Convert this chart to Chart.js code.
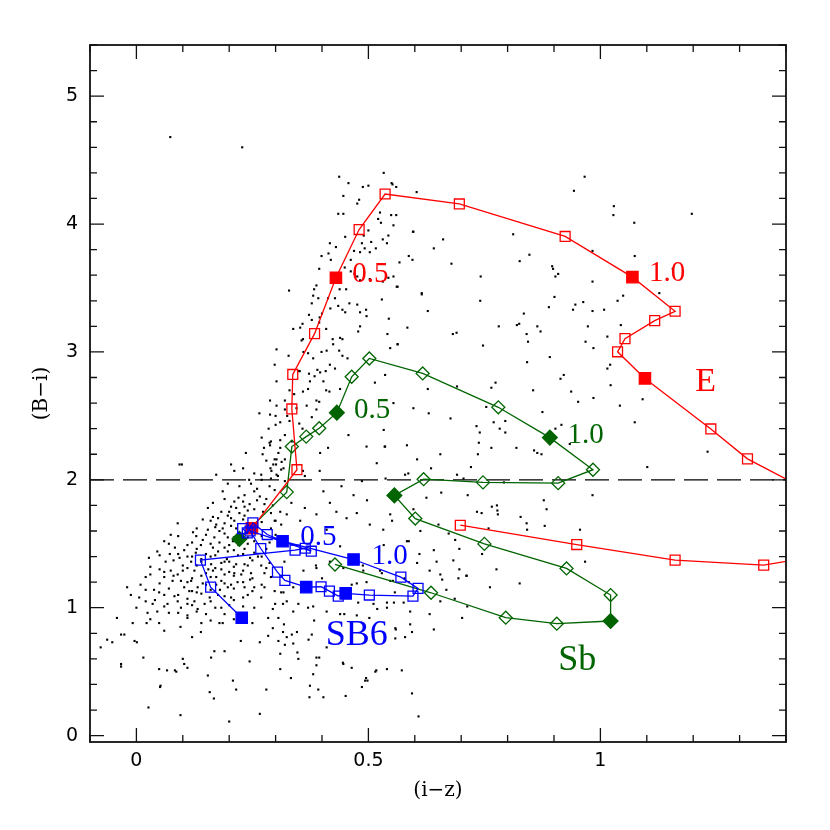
<!DOCTYPE html>
<html>
<head>
<meta charset="utf-8">
<script src="https://cdn.jsdelivr.net/npm/chart.js@4/dist/chart.umd.min.js"></script>
<style>
  body { margin: 0; background: #fff; }
</style>
</head>
<body>
<canvas id="myChart" width="830" height="830"></canvas>
<script>
// E template track (i-z, B-i), filled markers every 0.5 in redshift
var eX = [0.249, 0.346, 0.335, 0.337, 0.384, 0.430, 0.480, 0.536, 0.696, 0.924, 1.069, 1.161, 1.117, 1.053, 1.037, 1.096, 1.238, 1.317, 1.656, 1.352, 1.161, 0.949, 0.698];
var eY = [1.621, 2.079, 2.554, 2.824, 3.143, 3.580, 3.957, 4.235, 4.157, 3.903, 3.585, 3.318, 3.245, 3.104, 3.001, 2.793, 2.398, 2.164, 1.520, 1.333, 1.372, 1.494, 1.645];
var eFilled = [0, 5, 10, 15];

// Sb template track
var sbX = [0.222, 0.324, 0.335, 0.366, 0.394, 0.432, 0.464, 0.502, 0.617, 0.780, 0.891, 0.984, 0.909, 0.747, 0.619, 0.556, 0.601, 0.750, 0.927, 1.022, 1.022, 0.906, 0.796, 0.635, 0.428];
var sbY = [1.538, 1.904, 2.260, 2.338, 2.403, 2.525, 2.806, 2.949, 2.832, 2.567, 2.330, 2.079, 1.974, 1.980, 2.005, 1.878, 1.697, 1.499, 1.307, 1.099, 0.896, 0.875, 0.922, 1.117, 1.338];
var sbFilled = [0, 5, 10, 15, 20];

// SB6 template track
var sb6X = [0.229, 0.239, 0.251, 0.282, 0.315, 0.468, 0.570, 0.607, 0.596, 0.502, 0.451, 0.435, 0.416, 0.398, 0.366, 0.320, 0.304, 0.268, 0.245, 0.377, 0.364, 0.342, 0.138, 0.160, 0.227];
var sb6Y = [1.619, 1.585, 1.663, 1.572, 1.520, 1.377, 1.239, 1.151, 1.091, 1.099, 1.112, 1.091, 1.130, 1.164, 1.161, 1.214, 1.278, 1.463, 1.600, 1.442, 1.465, 1.450, 1.372, 1.161, 0.922];
var sb6Filled = [4, 5, 10, 14, 24];

// observed galaxies
var dotX = [0.073,0.228,0.437,0.457,0.488,0.500,0.533,0.550,0.560,0.446,0.480,0.476,0.604,0.525,0.435,0.446,0.549,0.560,0.521,0.527,0.554,0.500,0.597,0.543,0.506,0.531,0.540,0.486,0.417,0.430,0.469,0.482,0.492,0.503,0.516,0.414,0.399,0.419,0.462,0.567,0.595,0.449,0.394,0.462,0.476,0.482,0.503,0.531,0.543,0.561,0.388,0.383,0.329,0.438,0.452,0.615,0.381,0.392,0.378,0.413,0.428,0.435,0.459,0.476,0.418,0.444,0.482,0.495,0.496,0.395,0.372,0.378,0.394,0.409,0.358,0.353,0.338,0.482,0.478,0.541,0.359,0.356,0.423,0.439,0.444,0.424,0.563,0.302,0.437,0.370,0.399,0.444,0.381,0.455,0.298,0.417,0.428,0.396,0.408,0.372,0.384,0.374,0.403,0.514,0.536,0.302,0.359,0.409,0.416,0.439,0.388,0.394,0.288,0.302,0.367,0.388,0.597,0.378,0.288,0.300,0.351,0.358,0.457,0.583,0.413,0.496,0.536,0.288,0.306,0.396,0.302,0.313,0.295,0.317,0.291,0.302,0.359,0.363,0.518,0.586,0.395,
0.679,0.896,0.898,0.909,0.903,0.554,0.742,0.563,0.615,0.901,0.529,0.741,0.946,0.889,0.941,0.628,0.835,0.544,0.820,0.825,0.781,0.864,0.584,0.871,0.682,0.690,0.841,0.844,0.563,0.547,0.747,0.891,0.842,0.921,0.914,0.774,0.765,0.691,0.628,0.855,0.937,0.952,0.554,0.630,0.754,0.875,0.677,0.916,0.733,0.770,0.795,0.783,0.795,0.740,0.533,0.903,0.738,0.535,0.765,0.819,0.857,0.864,0.873,0.655,0.736,0.605,0.635,0.721,0.934,
0.966,0.943,0.552,1.029,1.028,1.197,1.073,0.812,0.661,0.641,0.596,0.587,0.847,0.826,0.983,1.074,1.156,0.983,1.049,1.037,1.127,0.963,1.008,0.983,0.973,1.044,1.015,0.968,0.985,1.021,1.015,1.022,0.985,1.042,1.091,1.074,1.101,1.231,0.983,0.878,
0.537,0.579,0.691,0.705,0.792,0.625,0.657,0.714,0.884,0.766,0.777,0.778,0.779,0.734,0.744,0.597,0.547,0.551,0.651,0.828,0.841,0.842,0.880,0.956,0.759,0.673,0.687,0.587,0.533,0.696,0.641,0.610,0.647,0.683,0.745,0.605,0.967,0.632,0.696,0.711,0.776,0.655,0.826,0.762,0.668,0.587,0.655,0.686,0.713,0.632,0.702,0.641,0.540,0.572,0.594,0.559,0.590,0.594,0.579,0.557,0.555,
0.360,0.387,0.488,0.525,0.475,0.496,0.553,0.578,0.659,0.694,0.712,0.338,0.317,0.464,0.349,0.381,0.410,0.439,0.448,0.475,0.502,0.519,0.540,0.576,0.383,0.318,0.316,0.335,0.378,0.371,0.558,0.558,0.320,0.338,0.347,0.349,0.394,0.445,0.464,0.517,0.388,0.381,0.333,0.495,0.498,0.486,0.392,0.451,0.373,0.608,
0.287,0.310,0.272,0.236,0.298,0.301,0.312,0.093,0.098,0.204,0.230,0.289,0.172,0.211,0.254,0.269,0.305,0.247,0.197,0.186,0.287,0.298,0.233,0.254,0.266,0.165,0.230,0.211,0.244,0.276,0.294,0.215,0.254,0.273,0.183,0.165,0.197,0.222,0.204,0.233,0.143,0.089,0.190,0.172,0.211,0.074,0.122,0.129,0.154,0.179,0.190,0.197,0.168,0.143,0.110,0.139,0.179,0.200,0.254,0.287,0.060,0.083,0.103,0.176,0.197,0.233,0.254,0.027,0.063,0.093,0.110,0.118,0.161,0.183,0.200,0.215,0.233,0.269,0.287,0.050,0.074,0.089,0.110,0.125,0.165,0.183,0.190,0.211,0.226,0.247,0.276,0.009,0.038,0.049,0.060,0.078,0.096,0.103,0.082,0.114,0.132,0.143,0.183,0.197,0.204,0.233,0.254,-0.020,-0.012,0.006,0.035,0.045,0.067,0.089,0.096,0.110,0.125,0.132,0.147,0.158,0.176,0.204,0.183,0.179,0.186,0.254,0.269,0.230,0.000,0.024,-0.008,0.022,0.049,-0.042,-0.033,-0.026,-0.004,0.001,-0.063,-0.077,-0.052,-0.033,-0.033,0.015,0.049,0.066,0.083,0.100,0.103,0.110,0.051,0.026,0.095,0.120,0.139,0.161,0.168,0.190,0.154,0.208,0.215,0.158,0.167,0.200,0.266,0.280,0.244,0.225,0.266,0.284,0.306,0.294,0.284,0.294,0.233,0.298,0.276,0.316,0.312,0.319,0.312,0.298,0.204,0.154,0.233,0.204,
0.052,0.086,0.310,0.374,0.403,0.493,0.515,0.310,0.388,0.446,0.410,0.324,0.346,
0.403,0.442,0.417,0.468,0.486,0.497,0.388,0.431,0.453,0.475,0.353,0.363,0.334,0.324,0.410,0.503,0.532,0.583,0.612,0.439,0.417,0.446,0.489,0.388,0.400,0.529,0.547,0.478,0.511,0.540,0.590,0.370,0.324,0.338,0.306,0.299,
0.176,0.186,0.215,0.222,0.240,0.208,0.165,0.150,0.128,0.140,0.155,0.172,0.140,0.118,0.100,0.072,0.045,0.130,0.160,0.172,0.218,0.245,0.262,0.245,0.219,0.195,0.160,0.060,0.030,0.020,0.070,0.110,0.150,0.200,0.220,0.250,0.140,0.095,0.060,0.260,0.243,0.222,0.275,0.320,0.325,0.340,0.352,0.328,0.320,0.335,0.285,0.270,0.300,0.265];
var dotY = [4.68,4.60,4.37,4.32,4.29,4.30,4.40,4.32,4.29,4.22,4.19,4.16,4.25,4.09,4.08,4.08,4.07,4.07,4.04,4.01,3.99,3.95,3.94,3.91,3.86,3.88,3.85,3.85,3.85,3.82,3.79,3.78,3.81,3.78,3.81,3.77,3.75,3.72,3.72,3.70,3.72,3.66,3.65,3.63,3.59,3.56,3.57,3.55,3.58,3.51,3.52,3.49,3.48,3.49,3.49,3.46,3.44,3.42,3.38,3.42,3.42,3.36,3.38,3.37,3.34,3.33,3.31,3.33,3.28,3.27,3.29,3.25,3.23,3.18,3.22,3.19,3.18,3.20,3.16,3.14,3.10,3.09,3.10,3.11,3.10,3.06,3.06,3.02,3.01,2.99,3.00,2.97,2.95,2.95,2.90,2.90,2.87,2.84,2.85,2.83,2.81,2.77,2.77,2.76,2.82,2.77,2.69,2.70,2.69,2.71,2.62,2.61,2.62,2.58,2.58,2.55,2.56,2.49,2.51,2.43,2.44,2.40,2.35,2.27,2.25,2.26,2.26,2.27,2.21,2.21,2.16,2.14,2.12,2.09,2.07,2.04,2.07,2.03,2.13,2.05,2.07,
3.69,3.67,3.65,3.61,3.59,3.59,3.59,3.51,3.45,3.43,3.41,3.40,3.37,3.35,3.33,3.32,3.30,3.26,3.21,3.22,3.20,3.20,3.19,3.16,3.14,3.15,3.14,3.08,3.06,3.03,3.05,2.96,2.92,2.82,2.79,2.76,2.72,2.73,2.71,2.70,2.69,2.61,2.60,2.52,2.57,2.53,2.48,2.43,2.42,2.45,2.46,2.40,2.37,2.37,2.39,2.40,2.29,2.26,2.25,2.25,2.23,2.21,2.20,2.20,2.20,2.16,2.09,2.10,2.28,
4.37,4.26,4.31,4.14,4.07,4.08,4.01,3.92,3.88,3.81,3.94,3.75,3.76,3.71,3.79,3.75,3.65,3.55,3.44,3.40,3.46,3.39,3.33,3.32,3.20,3.21,3.12,3.08,3.03,2.90,2.87,2.74,2.64,2.58,2.63,2.45,2.10,2.22,1.88,1.84,
2.01,2.04,2.04,2.01,1.98,1.86,1.90,1.88,1.77,1.79,1.80,1.76,1.73,1.75,1.74,1.77,1.73,1.68,1.65,1.71,1.66,1.61,1.64,1.61,1.62,1.58,1.53,1.52,1.49,1.46,1.45,1.42,1.36,1.37,1.42,1.35,1.36,1.29,1.30,1.25,1.30,1.26,1.19,1.16,1.14,1.20,1.05,1.07,1.01,0.95,0.92,0.83,0.52,0.51,0.33,0.83,0.87,0.81,0.77,1.12,1.04,
1.29,1.33,1.33,1.29,1.19,1.20,1.21,1.23,1.22,1.23,1.25,1.16,1.12,1.18,1.03,1.01,0.97,0.95,0.95,0.94,0.92,0.99,1.00,1.04,0.90,0.87,0.81,0.79,0.79,0.75,0.84,0.76,0.71,0.72,0.65,0.60,0.61,0.57,0.53,0.51,0.55,0.48,0.45,0.45,0.43,0.38,0.36,0.31,0.30,0.15,
2.29,2.25,2.20,2.21,2.16,2.12,2.08,2.12,2.12,2.12,2.09,2.09,2.04,2.07,2.05,2.04,2.03,1.97,1.97,1.91,1.95,1.92,1.88,1.91,1.87,1.82,1.83,1.83,1.81,1.81,1.80,1.78,1.77,1.75,1.75,1.71,1.72,1.74,1.70,1.72,1.69,1.66,1.66,1.65,1.68,1.57,1.59,1.56,1.61,1.60,1.58,1.55,1.55,1.53,1.49,1.49,1.51,1.49,1.52,1.51,1.52,1.47,1.45,1.44,1.44,1.46,1.43,1.39,1.36,1.39,1.40,1.36,1.34,1.35,1.36,1.34,1.34,1.33,1.35,1.30,1.29,1.26,1.31,1.29,1.29,1.30,1.26,1.27,1.26,1.27,1.27,1.18,1.14,1.12,1.10,1.21,1.21,1.16,1.09,1.13,1.16,1.19,1.21,1.16,1.18,1.16,1.16,1.16,1.10,1.08,1.03,0.97,1.03,1.05,1.00,1.03,1.05,0.99,1.03,1.08,1.10,1.08,1.00,0.88,0.88,1.00,1.08,1.08,1.00,0.96,0.88,0.88,0.88,0.92,0.79,0.79,0.74,0.73,0.75,0.69,0.73,0.56,0.54,0.61,0.52,0.51,0.51,0.60,0.56,0.53,0.38,0.22,0.16,0.77,0.81,0.61,0.66,0.66,0.47,0.43,0.36,0.34,0.29,0.11,0.17,0.36,0.58,0.74,0.73,0.78,0.74,0.84,0.92,0.99,0.95,1.13,1.16,1.03,1.12,1.36,1.65,1.68,1.64,1.78,1.79,1.79,
0.39,0.50,0.52,0.39,0.30,0.43,0.50,0.64,0.61,0.56,0.69,0.77,0.81,
1.91,1.95,1.82,1.88,1.99,1.84,1.73,1.75,1.70,1.74,1.68,1.78,1.82,1.73,1.61,1.65,1.61,1.52,1.60,1.48,1.36,1.31,1.29,1.31,1.23,1.27,1.21,1.04,1.03,1.04,0.97,1.00,1.05,0.97,0.92,1.03,
1.70,1.62,1.62,1.58,1.55,1.52,1.47,1.42,1.43,1.36,1.30,1.24,1.25,1.21,1.33,1.42,1.44,1.12,1.14,1.18,1.20,1.22,1.40,1.39,1.41,1.38,1.40,1.24,1.26,1.05,0.96,0.94,0.95,1.02,0.94,0.88,0.88,0.85,0.82,1.93,2.00,1.95,2.25,2.35,2.50,2.67,2.85,2.97,2.62,2.30,2.40,2.33,2.50,2.52];

// extra galaxies in the crowded core and the red column
var coreX = [0.19,0.22,0.26,0.28, 0.20,0.24,0.29,0.31, 0.16,0.23,0.27,0.30, 0.13,0.17,0.26,0.29, 0.09,0.15,0.21,0.27,0.30, 0.07,0.12,0.16,0.22,0.24, 0.13,0.19,0.21,0.28, 0.05,0.09,0.12,0.17,0.23,0.27, 0.08,0.14,0.19,0.25, 0.03,0.13,0.17,0.21,0.24,0.28, 0.06,0.10,0.15,0.20,0.23, 0.02,0.08,0.12,0.16,0.21,0.25,0.29, 0.05,0.11,0.15,0.19,0.23,0.27, 0.02,0.07,0.12,0.18,0.21,0.25, 0.09,0.14,0.19,0.24, 0.04,0.11,0.16,0.21, 0.06,0.12,0.17,0.23, 0.09,0.13,0.19, 0.03,0.11,0.16,0.21,
0.27,0.29,0.32, 0.28,0.32, 0.29,0.31, 0.31,0.33, 0.32,0.345, 0.33,0.37, 0.35,0.39, 0.36,0.41, 0.40,0.45, 0.42,0.47, 0.45,0.49];
var coreY = [1.85,1.86,1.84,1.85, 1.75,1.76,1.74,1.75, 1.68,1.69,1.67,1.68, 1.62,1.63,1.61,1.62, 1.56,1.57,1.55,1.56,1.57, 1.50,1.51,1.50,1.49,1.50, 1.46,1.47,1.45,1.46, 1.41,1.42,1.40,1.41,1.42,1.40, 1.37,1.38,1.36,1.37, 1.32,1.33,1.31,1.32,1.33,1.31, 1.28,1.29,1.27,1.28,1.29, 1.24,1.25,1.23,1.24,1.25,1.23,1.24, 1.19,1.20,1.18,1.19,1.20,1.18, 1.14,1.15,1.13,1.14,1.15,1.13, 1.10,1.11,1.09,1.10, 1.06,1.07,1.05,1.06, 1.01,1.02,1.00,1.01, 0.96,0.97,0.95, 0.91,0.92,0.90,0.91,
2.00,2.01,1.99, 2.15,2.16, 2.30,2.31, 2.45,2.46, 2.55,2.56, 2.70,2.71, 2.85,2.86, 3.00,3.01, 3.30,3.31, 3.60,3.61, 3.90,3.91];

// axis limits and tick labels
var xRange = [-0.1, 1.4];
var yRange = [-0.05, 5.4];
var xTicks = [0, 0.5, 1];
var yTicks = [0, 1, 2, 3, 4, 5];
var cutLine = 2; // dashed colour cut in (B-i)

var red = '#ff0000';
var green = '#006400';
var blue = '#0000ff';

var textLabels = [
	{ text: '0.5', x: 0.504, y: 3.603, color: red, size: 29 },
	{ text: '1.0', x: 1.144, y: 3.611, color: red, size: 29 },
	{ text: 'E', x: 1.227, y: 2.767, color: red, size: 34 },
	{ text: '0.5', x: 0.508, y: 2.546, color: green, size: 29 },
	{ text: '1.0', x: 0.968, y: 2.346, color: green, size: 29 },
	{ text: 'Sb', x: 0.950, y: 0.585, color: green, size: 36 },
	{ text: '0.5', x: 0.392, y: 1.546, color: blue, size: 29 },
	{ text: '1.0', x: 0.546, y: 1.403, color: blue, size: 29 },
	{ text: 'SB6', x: 0.475, y: 0.779, color: blue, size: 36 }
];

function toPoints(xs, ys) {
	return xs.map(function(x, i) { return { x: x, y: ys[i] }; });
}

function track(label, xs, ys, filled, color, style, rOpen, rFill, order) {
	return {
		label: label,
		data: toPoints(xs, ys),
		showLine: true,
		borderColor: color,
		borderWidth: 1.3,
		tension: 0,
		pointStyle: style,
		pointRadius: function(ctx) { return filled.includes(ctx.dataIndex) ? rFill : rOpen; },
		pointBackgroundColor: function(ctx) { return filled.includes(ctx.dataIndex) ? color : 'rgba(0,0,0,0)'; },
		pointBorderColor: color,
		pointBorderWidth: 1.3,
		order: order
	};
}

// frame with inward ticks on all four sides
var frame = {
	id: 'frame',
	afterDatasetsDraw: function(chart) {
		var ctx = chart.ctx;
		var a = chart.chartArea;
		var xs = chart.scales.x, ys = chart.scales.y;
		ctx.save();
		ctx.strokeStyle = '#111';
		ctx.lineWidth = 1.3;
		ctx.beginPath();
		for (var i = -1; i <= 14; i++) {
			var v = i / 10;
			var px = xs.getPixelForValue(v);
			var len = (i % 5 === 0) ? 14 : 7;
			ctx.moveTo(px, a.bottom); ctx.lineTo(px, a.bottom - len);
			ctx.moveTo(px, a.top); ctx.lineTo(px, a.top + len);
		}
		for (var j = 0; j <= 27; j++) {
			var w = j / 5;
			var py = ys.getPixelForValue(w);
			var l2 = (j % 5 === 0) ? 14 : 7;
			ctx.moveTo(a.left, py); ctx.lineTo(a.left + l2, py);
			ctx.moveTo(a.right, py); ctx.lineTo(a.right - l2, py);
		}
		ctx.stroke();
		ctx.lineWidth = 1.8;
		ctx.strokeRect(a.left, a.top, a.right - a.left, a.bottom - a.top);

		// curve labels
		ctx.textAlign = 'center';
		ctx.textBaseline = 'middle';
		textLabels.forEach(function(t) {
			ctx.fillStyle = t.color;
			ctx.font = t.size + 'px "Liberation Serif"';
			ctx.fillText(t.text, xs.getPixelForValue(t.x), ys.getPixelForValue(t.y));
		});
		ctx.restore();
	}
};

var chart = new Chart(document.getElementById('myChart').getContext('2d'), {
	type: 'scatter',
	data: {
		datasets: [
			track('SB6', sb6X, sb6Y, sb6Filled, blue, 'rect', 7, 8, 1),
			track('E', eX, eY, eFilled, red, 'rect', 7, 8, 2),
			track('Sb', sbX, sbY, sbFilled, green, 'rectRot', 6.5, 7.4, 3),
			{
				label: 'cut',
				data: [{ x: xRange[0], y: cutLine }, { x: xRange[1], y: cutLine }],
				showLine: true,
				borderColor: '#000',
				borderWidth: 1.3,
				borderDash: [24, 9],
				pointRadius: 0,
				order: 4
			},
			{
				label: 'galaxies',
				data: toPoints(dotX.concat(coreX), dotY.concat(coreY)),
				pointStyle: 'rect',
				pointRadius: 1.5,
				pointBorderWidth: 0,
				pointBackgroundColor: '#000',
				order: 10
			}
		]
	},
	options: {
		responsive: false,
		devicePixelRatio: 1,
		animation: false,
		layout: { padding: { left: 0, right: 44, top: 45, bottom: 0 } },
		plugins: {
			legend: { display: false },
			tooltip: { enabled: false }
		},
		scales: {
			x: {
				type: 'linear',
				min: xRange[0],
				max: xRange[1],
				grid: { display: false, drawTicks: false },
				border: { display: false },
				afterBuildTicks: function(scale) { scale.ticks = xTicks.map(function(v) { return { value: v }; }); },
				afterFit: function(scale) { scale.height = 88; },
				ticks: { color: '#000', padding: 8, font: { family: '"DejaVu Sans"', size: 19 }, callback: function(v) { return String(v); } },
				title: { display: true, text: '(i\u2212z)', color: '#000', padding: { top: 0, bottom: 27 }, font: { family: '"DejaVu Serif"', size: 20 } }
			},
			y: {
				type: 'linear',
				min: yRange[0],
				max: yRange[1],
				grid: { display: false, drawTicks: false },
				border: { display: false },
				afterBuildTicks: function(scale) { scale.ticks = yTicks.map(function(v) { return { value: v }; }); },
				afterFit: function(scale) { scale.width = 90; },
				ticks: { color: '#000', padding: 12, font: { family: '"DejaVu Sans"', size: 19 }, callback: function(v) { return String(v); } },
				title: { display: true, text: '(B\u2212i)', color: '#000', padding: { top: 30, bottom: 0 }, font: { family: '"DejaVu Serif"', size: 20 } }
			}
		}
	},
	plugins: [frame]
});
</script>
</body>
</html>
